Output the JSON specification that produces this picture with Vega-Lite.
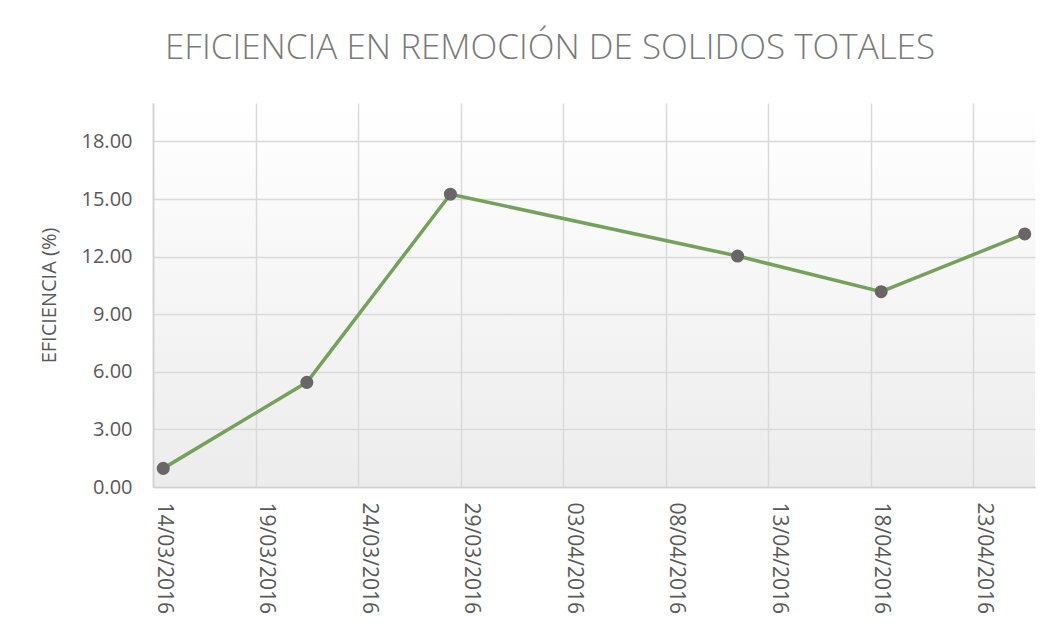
{
  "$schema": "https://vega.github.io/schema/vega-lite/v6.json",
  "width": 882,
  "height": 384,
  "autosize": {"type": "none"},
  "padding": {"left": 153, "top": 103, "right": 24, "bottom": 146},
  "background": "white",
  "title": {
    "text": "EFICIENCIA EN REMOCIÓN DE SOLIDOS TOTALES",
    "font": "Open Sans",
    "fontWeight": 300,
    "fontSize": 35,
    "color": "#7a7a7a",
    "anchor": "middle",
    "dx": -44,
    "offset": 9,
    "baseline": "alphabetic"
  },
  "data": {
    "values": [
      {"fecha": "2016-03-14T12:00:00Z", "eficiencia": 0.97},
      {"fecha": "2016-03-21T12:00:00Z", "eficiencia": 5.45},
      {"fecha": "2016-03-28T12:00:00Z", "eficiencia": 15.25},
      {"fecha": "2016-04-11T12:00:00Z", "eficiencia": 12.03},
      {"fecha": "2016-04-18T12:00:00Z", "eficiencia": 10.17},
      {"fecha": "2016-04-25T12:00:00Z", "eficiencia": 13.18}
    ]
  },
  "encoding": {
    "x": {
      "field": "fecha",
      "type": "temporal",
      "scale": {
        "type": "utc",
        "domain": [
          {"year": 2016, "month": 3, "date": 14, "utc": true},
          {"year": 2016, "month": 4, "date": 26, "utc": true}
        ]
      },
      "axis": {
        "values": [
          {"year": 2016, "month": 3, "date": 14, "utc": true},
          {"year": 2016, "month": 3, "date": 19, "utc": true},
          {"year": 2016, "month": 3, "date": 24, "utc": true},
          {"year": 2016, "month": 3, "date": 29, "utc": true},
          {"year": 2016, "month": 4, "date": 3, "utc": true},
          {"year": 2016, "month": 4, "date": 8, "utc": true},
          {"year": 2016, "month": 4, "date": 13, "utc": true},
          {"year": 2016, "month": 4, "date": 18, "utc": true},
          {"year": 2016, "month": 4, "date": 23, "utc": true}
        ],
        "format": "%d/%m/%Y",
        "labelAngle": 90,
        "labelOffset": 10,
        "labelPadding": 15,
        "labelFont": "Open Sans",
        "labelFontSize": 21,
        "labelColor": "#595959",
        "labelOverlap": false,
        "ticks": false,
        "grid": true,
        "gridColor": "#d9d9d9",
        "gridWidth": 1.5,
        "domainColor": "#d0d0d0",
        "domainWidth": 1.5,
        "title": null
      }
    },
    "y": {
      "field": "eficiencia",
      "type": "quantitative",
      "scale": {"domain": [0, 20], "nice": false, "zero": true},
      "axis": {
        "values": [0, 3, 6, 9, 12, 15, 18],
        "format": ".2f",
        "labelPadding": 21,
        "labelFont": "Open Sans",
        "labelFontSize": 20,
        "labelColor": "#595959",
        "ticks": false,
        "grid": true,
        "gridColor": "#d9d9d9",
        "gridWidth": 1.5,
        "domainColor": "#d0d0d0",
        "domainWidth": 1.5,
        "title": "EFICIENCIA (%)",
        "titleFont": "Open Sans",
        "titleFontSize": 20,
        "titleFontWeight": "normal",
        "titleColor": "#595959",
        "titlePadding": 22
      }
    }
  },
  "layer": [
    {
      "mark": {"type": "line", "color": "#74a25a", "strokeWidth": 3.5}
    },
    {
      "mark": {"type": "point", "filled": true, "color": "#6a6668", "size": 170, "opacity": 1}
    }
  ],
  "config": {
    "view": {
      "stroke": null,
      "fill": {
        "gradient": "linear",
        "x1": 0, "y1": 1, "x2": 0, "y2": 0,
        "stops": [
          {"offset": 0, "color": "#ececec"},
          {"offset": 1, "color": "#ffffff"}
        ]
      }
    }
  }
}
